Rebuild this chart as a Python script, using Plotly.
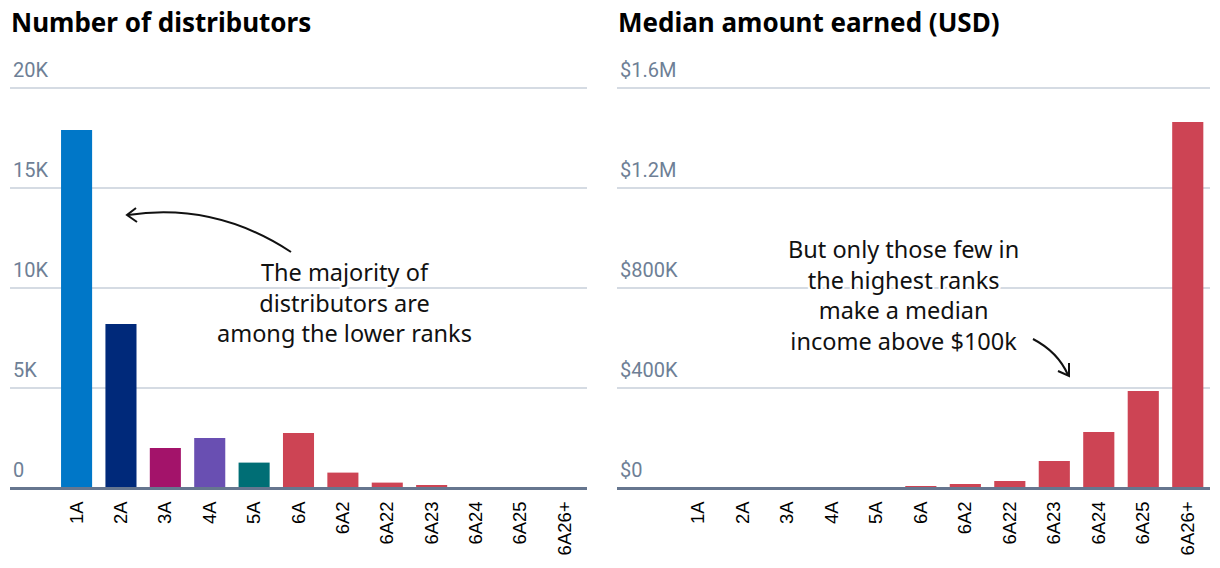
import plotly.graph_objects as go

ranks = ["1A", "2A", "3A", "4A", "5A", "6A", "6A2", "6A22", "6A23", "6A24", "6A25", "6A26+"]
distributors = [17900, 8200, 2000, 2500, 1270, 2750, 770, 270, 150, 30, 15, 5]
median_usd = [300, 400, 600, 800, 900, 8000, 16000, 28000, 108000, 224000, 388000, 1464000]
rank_colors = ["#0077C8", "#00297A", "#A3136A", "#694FB2", "#006E75", "#CD4454",
               "#CD4454", "#CD4454", "#CD4454", "#CD4454", "#CD4454", "#CD4454"]

left_ticks = [0, 5000, 10000, 15000, 20000]
left_ticktext = ["0", "5K", "10K", "15K", "20K"]
right_ticks = [0, 400000, 800000, 1200000, 1600000]
right_ticktext = ["$0", "$400K", "$800K", "$1.2M", "$1.6M"]

left_note = ["The majority of", "distributors are", "among the lower ranks"]
right_note = ["But only those few in", "the highest ranks", "make a median", "income above $100k"]

W, H = 1220, 568
ML, MR, MT, MB = 10, 10, 50, 80
PW = W - ML - MR
PH = H - MT - MB
GRID_SPAN = 400          # pixels between the 0 and the top gridline
HEAD = PH / GRID_SPAN    # extra headroom so the top tick label stays inside


def px(x):
    return (x - ML) / PW


def py(y):
    return (H - MB - y) / PH


fig = go.Figure()
fig.add_trace(go.Bar(x=ranks, y=distributors, marker=dict(color=rank_colors, line=dict(width=0)),
                     xaxis="x", yaxis="y", hoverinfo="x+y"))
fig.add_trace(go.Bar(x=ranks, y=median_usd, marker=dict(color="#CD4454", line=dict(width=0)),
                     xaxis="x2", yaxis="y2", hoverinfo="x+y"))

grid = "#D5DBE3"
axisline = "#66768F"
tickcol = "#6E7F96"

common_x = dict(type="category", categoryorder="array", categoryarray=ranks,
                tickangle=-90,
                tickfont=dict(family="Liberation Sans, Arial", size=18.5, color="#000000"),
                ticks="", showline=True, linecolor=axisline, linewidth=2,
                showgrid=False, zeroline=False, fixedrange=True, ticklabelstandoff=4)
common_y = dict(showgrid=True, gridcolor=grid, gridwidth=2, zeroline=False,
                ticks="", ticklabelposition="inside", ticklabelshift=-18, ticklabelstandoff=0,
                tickfont=dict(family="Roboto, Noto Sans", size=20, color=tickcol),
                showline=False, fixedrange=True)

fig.update_layout(
    width=W, height=H,
    margin=dict(l=ML, r=MR, t=MT, b=MB),
    paper_bgcolor="white", plot_bgcolor="white",
    showlegend=False, bargap=0.3,
    xaxis=dict(domain=[0, px(587)], range=[-1.5, 11.5], anchor="y", **common_x),
    xaxis2=dict(domain=[px(617), 1.0], range=[-1.83, 11.5], anchor="y2", **common_x),
    yaxis=dict(domain=[0, 1], range=[0, left_ticks[-1] * HEAD], anchor="x", tickvals=left_ticks,
               ticktext=left_ticktext, **common_y),
    yaxis2=dict(domain=[0, 1], range=[0, right_ticks[-1] * HEAD], anchor="x2", tickvals=right_ticks,
                ticktext=right_ticktext, **common_y),
)

# baselines drawn over the bars' bottom edge
for xr, yr in (("x domain", "y"), ("x2 domain", "y2")):
    fig.add_shape(type="line", xref=xr, yref=yr, x0=0, x1=1, y0=0, y1=0,
                  line=dict(color=axisline, width=2), layer="above")

title_font = dict(family="Noto Sans, Open Sans", size=26, color="#000000")
fig.add_annotation(text="<b>Number of distributors</b>", xref="paper", yref="paper",
                   x=px(9), y=py(22), xanchor="left", yanchor="middle", showarrow=False,
                   font=title_font)
fig.add_annotation(text="<b>Median amount earned (USD)</b>", xref="paper", yref="paper",
                   x=px(616), y=py(22), xanchor="left", yanchor="middle", showarrow=False,
                   font=title_font)

halo = ("2px 0 0 white, -2px 0 0 white, 0 2px 0 white, 0 -2px 0 white, "
        "2px 2px 0 white, -2px -2px 0 white, 2px -2px 0 white, -2px 2px 0 white")
note_font = dict(family="Noto Sans, Open Sans", size=23.5, color="#111111", shadow=halo)
fig.add_annotation(text="<br>".join(left_note), xref="paper", yref="paper", x=px(344), y=py(302),
                   xanchor="center", yanchor="middle", showarrow=False, font=note_font,
                   align="center")
fig.add_annotation(text="<br>".join(right_note), xref="paper", yref="paper", x=px(903), y=py(294.5),
                   xanchor="center", yanchor="middle", showarrow=False, font=note_font,
                   align="center")


def path(points, curve=None):
    if curve:
        (x0, y0), (cx, cy), (x1, y1) = points
        return f"M {px(x0)},{py(y0)} Q {px(cx)},{py(cy)} {px(x1)},{py(y1)}"
    return "M " + " L ".join(f"{px(x)},{py(y)}" for x, y in points)


line_style = dict(color="#111111", width=2)
# left curved arrow
fig.add_shape(type="path", xref="paper", yref="paper",
              path=path([(291, 252), (215, 202), (128, 215)], curve=True), line=line_style)
fig.add_shape(type="path", xref="paper", yref="paper",
              path=path([(136, 208), (127, 215), (137, 222)]), line=line_style)
# right curved arrow
fig.add_shape(type="path", xref="paper", yref="paper",
              path=path([(1033, 339), (1058, 352), (1068, 375)], curve=True), line=line_style)
fig.add_shape(type="path", xref="paper", yref="paper",
              path=path([(1069, 363), (1069, 376), (1058, 371)]), line=line_style)

fig.write_html("out.html", config={"displayModeBar": False},
               post_script="document.body.style.margin='0';")
